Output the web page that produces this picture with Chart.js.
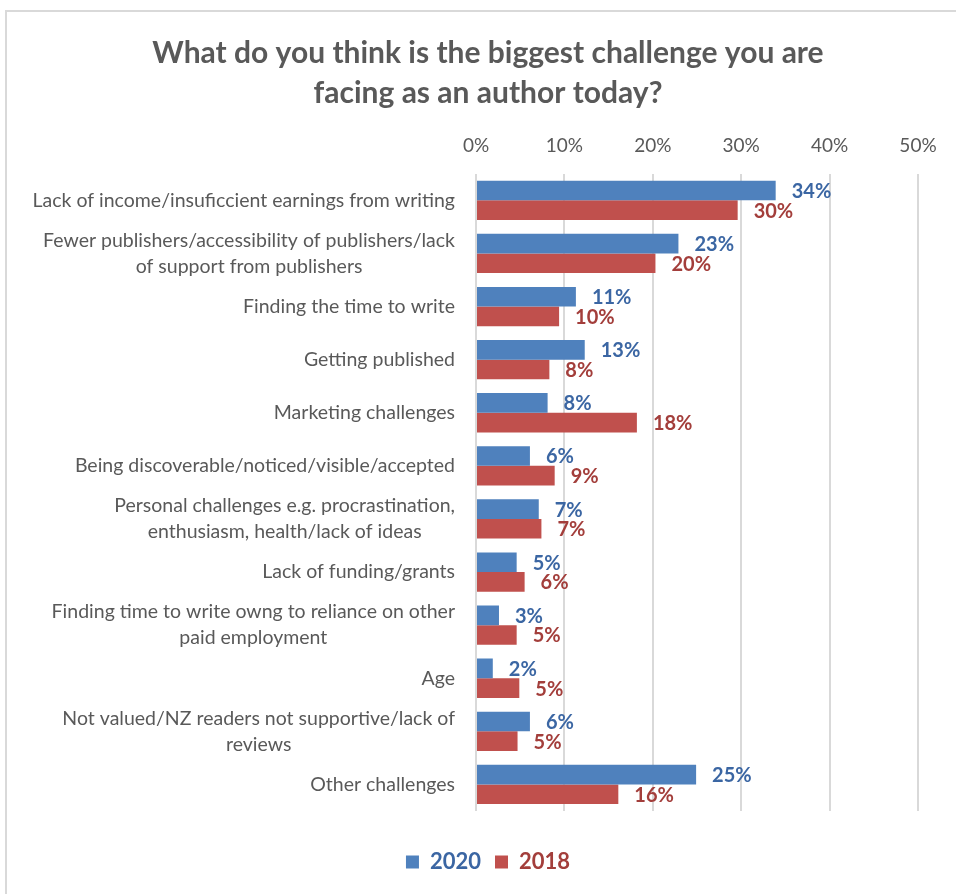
<!DOCTYPE html>
<html>
<head>
<meta charset="utf-8">
<script src="https://cdn.jsdelivr.net/npm/chart.js@4.4.1/dist/chart.umd.min.js"></script>
<style>
  html, body { margin: 0; padding: 0; background: #fff; overflow: hidden; }
  #frame { position: absolute; left: 5px; top: 10px; width: 1000px; height: 1000px;
           border-left: 2px solid #d9d9d9; border-top: 2px solid #d9d9d9; box-sizing: border-box; }
  #wrap { position: absolute; left: 5px; top: 0; width: 966px; height: 894px; }
</style>
</head>
<body>
<div id="frame"></div>
<div id="wrap"><canvas id="chart" width="966" height="894"></canvas></div>
<script>
const categories = [
  "Lack of income/insuficcient earnings from writing",
  ["Fewer publishers/accessibility of publishers/lack", "of support from publishers"],
  "Finding the time to write",
  "Getting published",
  "Marketing challenges",
  "Being discoverable/noticed/visible/accepted",
  ["Personal challenges e.g. procrastination,", "enthusiasm, health/lack of ideas"],
  "Lack of funding/grants",
  ["Finding time to write owng to reliance on other", "paid employment"],
  "Age",
  ["Not valued/NZ readers not supportive/lack of", "reviews"],
  "Other challenges"
];

const values2020 = [33.9, 22.9, 11.3, 12.3, 8.1, 6.1, 7.1, 4.6, 2.6, 1.9, 6.1, 24.9];
const values2018 = [29.6, 20.3, 9.4, 8.3, 18.2, 8.9, 7.4, 5.5, 4.6, 4.9, 4.7, 16.1];

const labels2020 = ["34%", "23%", "11%", "13%", "8%", "6%", "7%", "5%", "3%", "2%", "6%", "25%"];
const labels2018 = ["30%", "20%", "10%", "8%", "18%", "9%", "7%", "6%", "5%", "5%", "5%", "16%"];

const xTicks = [0, 10, 20, 30, 40, 50];

const FONT = "Lato, 'Open Sans', sans-serif";
const BLUE = "#4f81bd", RED = "#c0504d";
const BLUE_TXT = "#3b66a3", RED_TXT = "#a33e3b";
const GREY_TXT = "#595959";

// bar-end value labels
const barLabels = {
  id: "barLabels",
  afterDatasetsDraw(chart) {
    const ctx = chart.ctx;
    const texts = [labels2020, labels2018];
    const colors = [BLUE_TXT, RED_TXT];
    ctx.save();
    ctx.font = "bold 20px " + FONT;
    ctx.textAlign = "left";
    ctx.textBaseline = "middle";
    chart.data.datasets.forEach((ds, i) => {
      const meta = chart.getDatasetMeta(i);
      ctx.fillStyle = colors[i];
      meta.data.forEach((bar, j) => {
        ctx.fillText(texts[i][j], bar.x + 16, bar.y + 1);
      });
    });
    ctx.restore();
  }
};

// category labels: block right-aligned, lines centred inside the block (like Excel)
const catLabels = {
  id: "catLabels",
  afterDraw(chart) {
    const ctx = chart.ctx;
    const y = chart.scales.y;
    const right = chart.chartArea.left - 21;
    const lh = 26;
    ctx.save();
    ctx.font = "19.5px " + FONT;
    ctx.fillStyle = GREY_TXT;
    ctx.textAlign = "center";
    ctx.textBaseline = "middle";
    categories.forEach((lab, i) => {
      const lines = Array.isArray(lab) ? lab : [lab];
      const w = Math.max(...lines.map(l => ctx.measureText(l).width));
      const cx = right - w / 2;
      const cy = y.getPixelForTick(i);
      lines.forEach((l, k) => {
        ctx.fillText(l, cx, cy + (k - (lines.length - 1) / 2) * lh);
      });
    });
    ctx.restore();
  }
};

new Chart(document.getElementById("chart"), {
  type: "bar",
  data: {
    labels: categories,
    datasets: [
      { label: "2020", data: values2020, backgroundColor: BLUE, borderWidth: 0, xAxisID: "x", yAxisID: "y" },
      { label: "2018", data: values2018, backgroundColor: RED, borderWidth: 0, xAxisID: "x", yAxisID: "y" }
    ]
  },
  options: {
    indexAxis: "y",
    responsive: false,
    animation: false,
    categoryPercentage: 0.74,
    barPercentage: 1.0,
    layout: { padding: { left: 0, right: 0, top: 0, bottom: 11 } },
    scales: {
      x: {
        type: "linear",
        position: "top",
        min: 0,
        max: 50,
        afterBuildTicks: (s) => { s.ticks = xTicks.map(v => ({ value: v })); },
        afterFit: (s) => { s.height = 61; },
        ticks: {
          callback: (v) => v + "%",
          color: GREY_TXT,
          font: { family: FONT, size: 19 },
          padding: 17
        },
        grid: { color: "#d9d9d9", lineWidth: 2, drawTicks: false },
        border: { display: false }
      },
      xpad: {
        type: "linear",
        position: "bottom",
        axis: "x",
        display: true,
        ticks: { display: false },
        grid: { display: false },
        border: { display: false },
        afterFit: (s) => { s.height = 26; }
      },
      ypad: {
        type: "linear",
        position: "right",
        axis: "y",
        display: true,
        ticks: { display: false },
        grid: { display: false },
        border: { display: false },
        afterFit: (s) => { s.width = 53; }
      },
      y: {
        type: "category",
        afterFit: (s) => { s.width = 471; },
        ticks: { display: false, autoSkip: false },
        grid: { display: false },
        border: { display: false }
      }
    },
    plugins: {
      title: {
        display: true,
        text: ["What do you think is the biggest challenge you are", "facing as an author today?"],
        color: GREY_TXT,
        font: { family: FONT, size: 30, weight: "bold", lineHeight: 1.33 },
        padding: { top: 33, bottom: 0 }
      },
      legend: {
        position: "bottom",
        labels: {
          boxWidth: 13,
          boxHeight: 13,
          padding: 14,
          font: { family: FONT, size: 22, weight: "bold" },
          generateLabels: (chart) => chart.data.datasets.map((ds, i) => ({
            text: ds.label,
            fillStyle: ds.backgroundColor,
            strokeStyle: ds.backgroundColor,
            lineWidth: 0,
            fontColor: i === 0 ? BLUE_TXT : RED_TXT,
            datasetIndex: i
          }))
        }
      },
      tooltip: { enabled: false }
    }
  },
  plugins: [barLabels, catLabels]
});
</script>
</body>
</html>
